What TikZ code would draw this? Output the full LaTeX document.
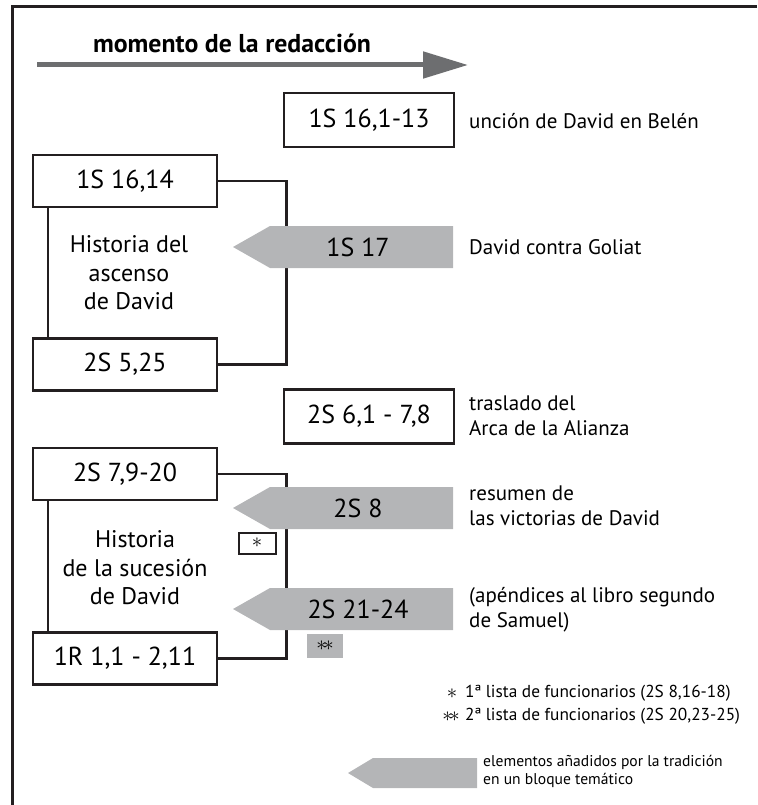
\documentclass[tikz,border=0pt]{standalone}
\usepackage{fontspec}
\setmainfont{PT Sans}
\usepackage{xcolor}
\usepackage{tikz}
\usetikzlibrary{positioning,arrows.meta}

\definecolor{linegray}{HTML}{231F20}
\definecolor{blockgray}{HTML}{B4B5B7}
\definecolor{arrowgray}{HTML}{6D6E70}

\tikzset{
  pasaje/.style={draw=linegray, line width=2.6pt, minimum height=52pt,
    inner sep=0pt, font=\fontsize{26}{30}\selectfont},
  leftbox/.style={pasaje, minimum width=184pt},
  rightbox/.style={pasaje, minimum width=170pt, minimum height=54pt},
  link/.style={draw=linegray, line width=2.6pt},
  addfill/.style={fill=blockgray},
  addtext/.style={font=\fontsize{26}{30}\selectfont},
  desc/.style={anchor=west, align=left, inner sep=0pt,
    font=\fontsize{21}{25}\selectfont},
  historia/.style={align=center, inner sep=0pt,
    font=\fontsize{24}{28.5}\selectfont},
  leyenda/.style={anchor=west, inner sep=0pt, font=\fontsize{17.3}{19}\selectfont},
  estrella/.style={inner sep=0pt, font=\fontsize{22}{24}\selectfont}
}

% gray block pointing left: name, y, text
\newcommand{\bloque}[3]{%
  \fill[addfill] (453,#2-21) -- (270,#2-21) -- (233,#2) -- (270,#2+21) -- (453,#2+21) -- cycle;
  \node[addtext] (#1) at (358,#2) {#3};}

\begin{document}
\begin{tikzpicture}[x=1pt,y=-1pt]
  \useasboundingbox (0,0) rectangle (757,805);

  % frame
  \draw[linegray, line width=3pt] (757,7) -- (12,7) -- (12,805);

  % time arrow
  \coordinate (t0) at (37,65);
  \coordinate (t1) at (468,65);
  \draw[arrowgray, line width=5pt, -{Triangle[length=45pt,width=26pt]}] (t0) -- (t1);
  \node[font=\bfseries\fontsize{25.8}{28}\selectfont] (titulo) at (232,43) {momento de la redacción};

  % boxes
  \node[rightbox] (uncion) at (369,120) {1S 16,1-13};
  \node[leftbox] (asc1) at (125,181) {1S 16,14};
  \node[leftbox] (asc2) at (125,364.5) {2S 5,25};
  \node[rightbox] (arca) at (369,416.5) {2S 6,1 - 7,8};
  \node[leftbox] (suc1) at (125,474) {2S 7,9-20};
  \node[leftbox] (suc2) at (125,658.5) {1R 1,1 - 2,11};

  % brackets
  \draw[link] (asc1.east) -- ++(68,0) |- (asc2.east);
  \draw[link] ([xshift=-77pt]asc1.south) -- ([xshift=-77pt]asc2.north);
  \draw[link] (suc1.east) -- ++(68,0) |- (suc2.east);
  \draw[link] ([xshift=-77pt]suc1.south) -- ([xshift=-77pt]suc2.north);

  \node[historia] (hasc) at (129,273) {Historia del\\ascenso\\de David};
  \node[historia] (hsuc) at (135,568) {Historia\\de la sucesión\\de David};

  % added blocks
  \bloque{goliat}{247}{1S 17}
  \bloque{victorias}{508}{2S 8}
  \bloque{apendices}{609}{2S 21-24}

  \node[estrella, draw=linegray, line width=2pt, minimum width=37pt, minimum height=21pt]
    (lista1) at (257,543) {$\ast$};
  \node[estrella, addfill, minimum width=36pt, minimum height=24pt]
    (lista2) at (325,646) {$\ast\!\ast$};

  % descriptions
  \node[desc] (d1) at (469,121) {unción de David en Belén};
  \node[desc] (d2) at (469,247) {David contra Goliat};
  \node[desc] (d3) at (469,416) {traslado del\\Arca de la Alianza};
  \node[desc] (d4) at (469,506) {resumen de\\las victorias de David};
  \node[desc] (d5) at (469,610) {(apéndices al libro segundo\\de Samuel)};

  % legend
  \node[estrella] (ast1) at (452,694) {$\ast$};
  \node[leyenda] (ley1) at (465,693) {1ª lista de funcionarios (2S 8,16-18)};
  \node[estrella] (ast2) at (451,717) {$\ast\!\ast$};
  \node[leyenda] (ley2) at (465,716) {2ª lista de funcionarios (2S 20,23-25)};
  \fill[addfill] (477,758) -- (373,758) -- (348,773) -- (373,788) -- (477,788) -- cycle;
  \node[leyenda, align=left, font=\fontsize{15.6}{18}\selectfont] (ley3) at (483,771)
    {elementos añadidos por la tradición\\en un bloque temático};
\end{tikzpicture}
\end{document}
